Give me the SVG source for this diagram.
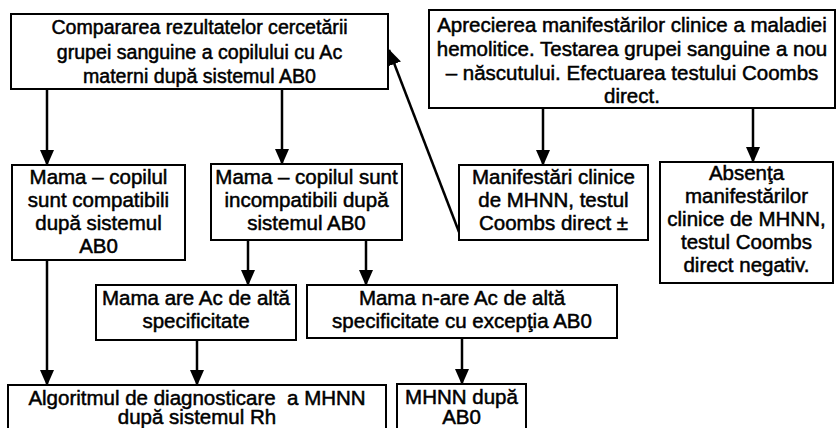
<svg xmlns="http://www.w3.org/2000/svg" width="837" height="428" viewBox="0 0 837 428">
  <style>
    .box { fill: #ffffff; stroke: #000000; stroke-width: 2; }
    .t { font-family: "Liberation Sans", Arial, sans-serif; font-size: 20.5px; fill: #000000; text-anchor: middle; stroke: #000000; stroke-width: 0.5; white-space: pre; }
    .t.sm { font-size: 19.6px; }
    .edge { stroke: #000000; stroke-width: 2.5; fill: none; marker-end: url(#arrow); }
  </style>
  <defs>
    <marker id="arrow" markerUnits="userSpaceOnUse" markerWidth="16" markerHeight="16" viewBox="0 0 16 16" refX="15" refY="8" orient="auto">
      <path d="M0,1 L16,8 L0,15 Z" fill="#000000"/>
    </marker>
  </defs>
  <rect width="837" height="428" fill="#ffffff"/>

  <g id="connectors">
    <line class="edge" x1="47" y1="89" x2="47" y2="165"/>
    <line class="edge" x1="282" y1="89" x2="282" y2="164"/>
    <line class="edge" x1="543" y1="108" x2="543" y2="165"/>
    <line class="edge" x1="753" y1="108" x2="753" y2="162"/>
    <line class="edge" x1="459" y1="232" x2="389" y2="50"/>
    <line class="edge" x1="47" y1="260" x2="47" y2="385"/>
    <line class="edge" x1="248" y1="240" x2="248" y2="285"/>
    <line class="edge" x1="366" y1="240" x2="366" y2="285"/>
    <line class="edge" x1="197" y1="340" x2="197" y2="385"/>
    <line class="edge" x1="462" y1="338" x2="462" y2="384"/>
  </g>

  <g id="compare-ab0">
    <rect class="box" x="11" y="14" width="377" height="75"/>
    <text class="t sm" x="199.5" y="34">Compararea rezultatelor cercetării</text>
    <text class="t sm" x="199.5" y="58.5">grupei sanguine a copilului cu Ac</text>
    <text class="t sm" x="199.5" y="83">materni după sistemul AB0</text>
  </g>

  <g id="clinical-assessment">
    <rect class="box" x="429" y="10" width="406" height="98"/>
    <text class="t" x="632" y="32">Aprecierea manifestărilor clinice a maladiei</text>
    <text class="t" x="632" y="56">hemolitice. Testarea grupei sanguine a nou</text>
    <text class="t" x="632" y="80">– născutului. Efectuarea testului Coombs</text>
    <text class="t" x="632" y="103">direct.</text>
  </g>

  <g id="compatible">
    <rect class="box" x="12" y="165" width="173" height="95"/>
    <text class="t" x="98.5" y="184">Mama – copilul</text>
    <text class="t" x="98.5" y="207">sunt compatibili</text>
    <text class="t" x="98.5" y="230">după sistemul</text>
    <text class="t" x="98.5" y="253">AB0</text>
  </g>

  <g id="incompatible">
    <rect class="box" x="211" y="164" width="191" height="76"/>
    <text class="t" x="306.5" y="184">Mama – copilul sunt</text>
    <text class="t" x="306.5" y="207">incompatibili după</text>
    <text class="t" x="306.5" y="230">sistemul AB0</text>
  </g>

  <g id="clinical-signs">
    <rect class="box" x="459" y="165" width="189" height="75"/>
    <text class="t" x="553.5" y="184">Manifestări clinice</text>
    <text class="t" x="553.5" y="207">de MHNN, testul</text>
    <text class="t" x="553.5" y="230">Coombs direct ±</text>
  </g>

  <g id="no-clinical-signs">
    <rect class="box" x="660" y="162" width="173" height="121"/>
    <text class="t" x="746.5" y="180">Absenţa</text>
    <text class="t" x="746.5" y="203">manifestărilor</text>
    <text class="t" x="746.5" y="226">clinice de MHNN,</text>
    <text class="t" x="746.5" y="249">testul Coombs</text>
    <text class="t" x="746.5" y="272">direct negativ.</text>
  </g>

  <g id="other-antibodies">
    <rect class="box" x="96" y="285" width="200" height="55"/>
    <text class="t" x="196" y="305">Mama are Ac de altă</text>
    <text class="t" x="196" y="328">specificitate</text>
  </g>

  <g id="no-other-antibodies">
    <rect class="box" x="307" y="285" width="310" height="53"/>
    <text class="t" x="462" y="305">Mama n-are Ac de altă</text>
    <text class="t" x="462" y="328">specificitate cu excepţia AB0</text>
  </g>

  <g id="rh-algorithm">
    <rect class="box" x="8" y="385" width="378" height="60"/>
    <text class="t" x="197" y="405">Algoritmul de diagnosticare  a MHNN</text>
    <text class="t" x="197" y="424">după sistemul Rh</text>
  </g>

  <g id="hdn-ab0">
    <rect class="box" x="397" y="384" width="129" height="60"/>
    <text class="t" x="461.5" y="404">MHNN după</text>
    <text class="t" x="461.5" y="424">AB0</text>
  </g>
</svg>
